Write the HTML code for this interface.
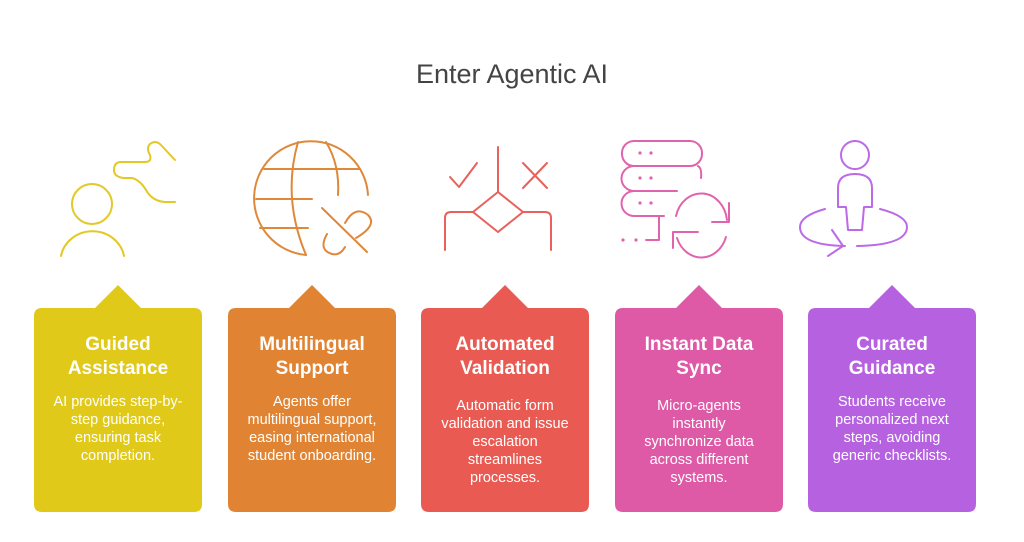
<!DOCTYPE html>
<html><head><meta charset="utf-8"><style>
body{margin:0;background:#fff;width:1024px;height:542px;overflow:hidden;font-family:"Liberation Sans",sans-serif}
svg{display:block}
.t{font-weight:bold;font-size:19px;fill:#fff;text-anchor:middle}
.b{font-size:14.5px;fill:#fff;text-anchor:middle}
.i{fill:none;stroke-width:2;stroke-linecap:round;stroke-linejoin:round}
</style></head><body>
<svg width="1024" height="542" viewBox="0 0 1024 542">
<text x="512" y="83" font-size="27" fill="#444" text-anchor="middle">Enter Agentic AI</text>

<!-- icon 1 -->
<g class="i" stroke="#E3C827">
<circle cx="92" cy="204" r="20"/>
<path d="M61 256 A32 30 0 0 1 124 256"/>
<path d="M175 160 L160 144 Q155 140 150 144 Q146 148 150 155 Q152 162 145 162 L120 162 Q114 163 114 170 Q114 177 124 178 L132 178 Q140 180 146 190 Q152 201 165 202 L175 202"/>
</g>
<!-- icon 2 -->
<g class="i" stroke="#E0883A">
<path d="M306 255 A57 57 0 1 1 368 195"/>
<path d="M298 142 Q282 198 306 255"/>
<path d="M326 142 Q340 165 338 195"/>
<path d="M264 169 L360 169 M256 199 L312 199 M260 228 L308 228"/>
<path d="M322 208 L367 252"/>
<path d="M345 223 Q355 205 368 215 Q378 225 356 238"/>
<path d="M327 234 Q318 250 332 254 Q340 256 345 247"/>
</g>
<!-- icon 3 -->
<g class="i" stroke="#E8615A">
<path d="M498 147 L498 192"/>
<path d="M498 192 L523 212 L498 232 L473 212 Z"/>
<path d="M473 212 L451 212 Q445 212 445 218 L445 250 M523 212 L545 212 Q551 212 551 218 L551 250"/>
<path d="M450 177 L459 187 L477 163"/>
<path d="M523 163 L547 188 M547 163 L523 188"/>
</g>
<!-- icon 4 -->
<g class="i" stroke="#E063AE">
<rect x="622" y="141" width="80" height="25" rx="12"/>
<path d="M698 166 Q702 168 701 178 M677 191 L634 191 A12 12 0 0 1 634 166"/>
<path d="M664 216 L634 216 A12 12 0 0 1 634 191"/>
<path d="M659 216 L659 240 L646 240"/>
<path d="M676 216 A26 30 0 0 1 727 220"/>
<path d="M729 203 L729 222 L712 222"/>
<path d="M726 237 A26 30 0 0 1 677 238"/>
<path d="M673 248 L673 232 L698 232"/>
</g>
<g fill="#E063AE">
<circle cx="640" cy="153" r="1.6"/><circle cx="651" cy="153" r="1.6"/>
<circle cx="640" cy="178" r="1.6"/><circle cx="651" cy="178" r="1.6"/>
<circle cx="640" cy="203" r="1.6"/><circle cx="651" cy="203" r="1.6"/>
<circle cx="623" cy="240" r="1.6"/><circle cx="636" cy="240" r="1.6"/>
</g>
<!-- icon 5 -->
<g class="i" stroke="#BC6AE6">
<circle cx="855" cy="155" r="14"/>
<path d="M846 207 L838 207 L838 188 Q838 174 855 174 Q872 174 872 188 L872 207 L864 207 L862 230 L848 230 Z"/>
<path d="M825 209 Q800 216 800 227 Q800 245 845 246 M880 209 Q907 216 907 227 Q907 245 857 246"/>
<path d="M832 230 L843 246 L828 256"/>
</g>

<!-- cards -->
<g>
<path d="M42 308 L95 308 L118 285 L141 308 L194 308 Q202 308 202 316 L202 504 Q202 512 194 512 L42 512 Q34 512 34 504 L34 316 Q34 308 42 308Z" fill="#E0C918"/>
<path d="M236 308 L289 308 L312 285 L335 308 L388 308 Q396 308 396 316 L396 504 Q396 512 388 512 L236 512 Q228 512 228 504 L228 316 Q228 308 236 308Z" fill="#E08433"/>
<path d="M429 308 L482 308 L505 285 L528 308 L581 308 Q589 308 589 316 L589 504 Q589 512 581 512 L429 512 Q421 512 421 504 L421 316 Q421 308 429 308Z" fill="#E85A52"/>
<path d="M623 308 L676 308 L699 285 L722 308 L775 308 Q783 308 783 316 L783 504 Q783 512 775 512 L623 512 Q615 512 615 504 L615 316 Q615 308 623 308Z" fill="#DE59A6"/>
<path d="M816 308 L869 308 L892 285 L915 308 L968 308 Q976 308 976 316 L976 504 Q976 512 968 512 L816 512 Q808 512 808 504 L808 316 Q808 308 816 308Z" fill="#B662E0"/>
</g>
<text class="t" x="118" y="350">Guided</text><text class="t" x="118" y="374">Assistance</text>
<text class="b" x="118" y="406">AI provides step-by-</text><text class="b" x="118" y="424">step guidance,</text><text class="b" x="118" y="442">ensuring task</text><text class="b" x="118" y="460">completion.</text>

<text class="t" x="312" y="350">Multilingual</text><text class="t" x="312" y="374">Support</text>
<text class="b" x="312" y="406">Agents offer</text><text class="b" x="312" y="424">multilingual support,</text><text class="b" x="312" y="442">easing international</text><text class="b" x="312" y="460">student onboarding.</text>

<text class="t" x="505" y="350">Automated</text><text class="t" x="505" y="374">Validation</text>
<text class="b" x="505" y="410">Automatic form</text><text class="b" x="505" y="428">validation and issue</text><text class="b" x="505" y="446">escalation</text><text class="b" x="505" y="464">streamlines</text><text class="b" x="505" y="482">processes.</text>

<text class="t" x="699" y="350">Instant Data</text><text class="t" x="699" y="374">Sync</text>
<text class="b" x="699" y="410">Micro-agents</text><text class="b" x="699" y="428">instantly</text><text class="b" x="699" y="446">synchronize data</text><text class="b" x="699" y="464">across different</text><text class="b" x="699" y="482">systems.</text>

<text class="t" x="892" y="350">Curated</text><text class="t" x="892" y="374">Guidance</text>
<text class="b" x="892" y="406">Students receive</text><text class="b" x="892" y="424">personalized next</text><text class="b" x="892" y="442">steps, avoiding</text><text class="b" x="892" y="460">generic checklists.</text>
</svg>
</body></html>
